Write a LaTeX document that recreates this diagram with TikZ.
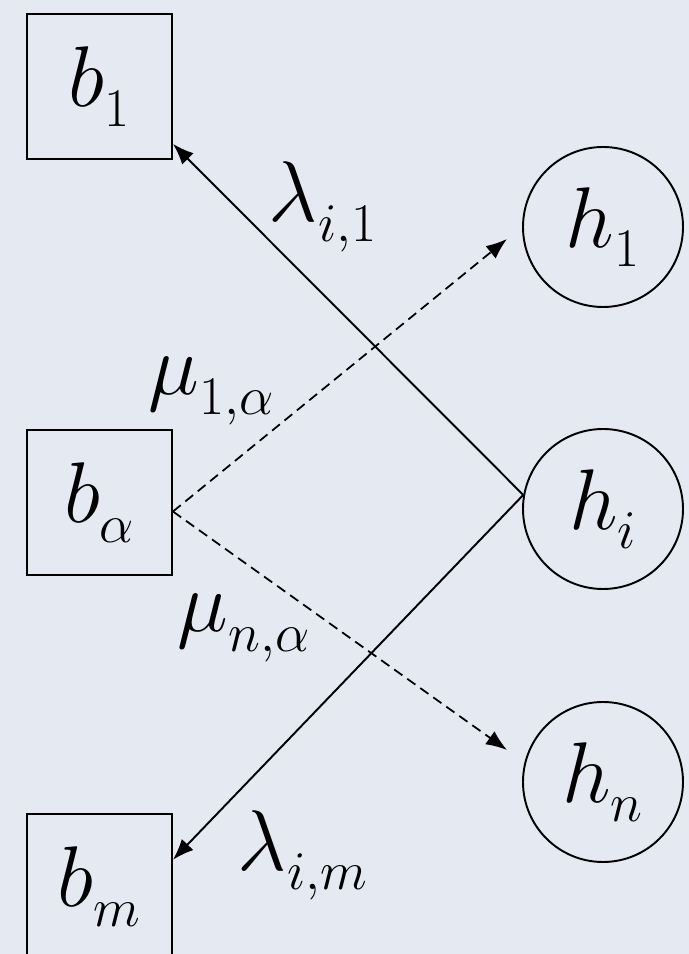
\documentclass[tikz,border=0pt]{standalone}
\usepackage{fix-cm}
\usetikzlibrary{arrows.meta}
\definecolor{paper}{RGB}{229,233,241}
\DeclareMathSizes{49}{49}{31}{24}

\begin{document}
\begin{tikzpicture}[line width=1.1pt,>={Latex[length=4.2mm,width=3.2mm]},
  bigmath/.style={font=\fontsize{49}{49}\selectfont\everymath{\fontdimen16\textfont2=11pt}},
  bnode/.style={draw,rectangle,minimum size=2.9cm,inner sep=0pt,bigmath},
  hnode/.style={draw,circle,minimum size=3.2cm,inner sep=0pt,bigmath},
  lbl/.style={anchor=base west,inner sep=0pt,bigmath},
  weight/.style={->,dash pattern=on 5.7pt off 3.4pt,line width=1pt}]
% ---------- background ----------
\fill[paper] (0,0) rectangle (13.78,19.08);
\useasboundingbox (0,0) rectangle (13.78,19.08);
\clip (0,0) rectangle (13.78,19.08);
% ---------- visible units ----------
\node[bnode] (b1) at (1.99,17.35) {$b_1$};
\node[bnode] (ba) at (1.99,9.03) {$b_\alpha$};
\node[bnode] (bm) at (1.99,1.35) {$b_m$};
% ---------- hidden units ----------
\node[hnode] (h1) at (12.06,14.54) {$h_1$};
\node[hnode] (hi) at (12.06,8.90) {$h_i$};
\node[hnode] (hn) at (12.06,3.44) {$h_n$};
\coordinate (t1) at (10.14,14.30);
\coordinate (tn) at (10.14,4.08);
% ---------- connections ----------
\draw[->] (hi.170) -- (b1.-38);
\draw[->] (hi.170) -- (bm.20);
\draw[weight] (ba.-7) -- (t1);
\draw[weight] (ba.-7) -- (tn);
% ---------- labels ----------
\node[lbl] (l1) at (5.36,14.64) {$\lambda_{i,1}$};
\node[lbl] (u1) at (2.96,11.18) {$\mu_{1,\alpha}$};
\node[lbl] (un) at (3.54,6.44) {$\mu_{n,\alpha}$};
\node[lbl] (lm) at (4.74,1.68) {$\lambda_{i,m}$};
\end{tikzpicture}
\end{document}
